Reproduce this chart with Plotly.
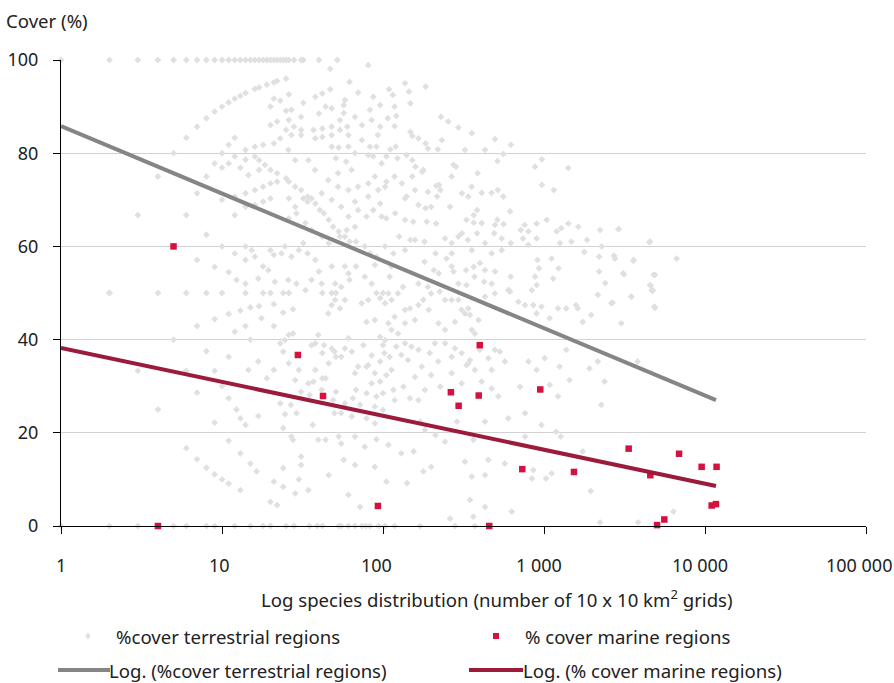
import plotly.graph_objects as go

# ---------------- DATA ----------------
# Terrestrial regions: species distribution (number of 10x10 km grids) vs % cover
terr_x_top = [1, 2, 3, 4, 5, 6, 7, 8, 9, 10, 11, 12, 13, 14, 15, 16, 17, 18, 19, 20, 21, 22, 23, 24, 25, 26, 28, 31, 32, 40, 52, 47, 81]
terr_y_top = [100, 100, 100, 100, 100, 100, 100, 100, 100, 100, 100, 100, 100, 100, 100, 100, 100, 100, 100, 100, 100, 100, 100, 100, 100, 100, 100, 100, 100, 100, 100, 98.1, 98.9]

terr_x_a = [6, 7, 8, 9, 10, 11, 12, 13, 14, 16, 17, 19, 21, 22, 25, 5, 4, 3, 2,
            6, 7, 8, 9, 10, 11, 12, 5,
            62, 70, 87, 38, 42, 47, 58, 32, 26, 21, 23, 20, 25, 27, 31, 40, 44, 48, 57, 57, 54, 60, 67, 83, 96, 74, 85, 96, 93, 83, 91, 87, 81,
            61, 48, 53, 51, 59, 67, 74, 61, 54, 48, 48, 42, 37, 42, 38, 31, 31, 28, 26, 22, 20, 25, 27, 23, 21, 18, 16, 14, 12, 11, 10]
terr_y_a = [83.3, 85.7, 87.5, 88.9, 90, 90.9, 91.7, 92.3, 92.9, 93.8, 94.1, 94.7, 95.2, 95.5, 96, 80, 75, 66.7, 50,
            66.7, 71.4, 75, 77.8, 80, 81.8, 83.3, 60,
            95.3, 93, 92.1, 92.1, 92.8, 93.7, 91.4, 90.8, 92.6, 91.7, 91.3, 90, 89.1, 89.3, 87.8, 88.5, 90, 89.6, 90.3, 88.6, 87.1, 85.7, 87.8, 89.3, 90.3, 86, 87.1, 85.7, 83.9, 81.4, 81.4, 79.3, 79.6,
            81.4, 81.4, 81.2, 78.9, 78.2, 80, 82.8, 83.9, 85, 85.7, 83.9, 85.3, 85, 83.5, 83.2, 85, 83.9, 85.7, 87.1, 86.8, 86, 85, 83.9, 83.2, 82.1, 81.8, 81.4, 80.7, 79.3, 77.8, 76.9]

terr_x_b = [16, 17, 18.5, 20, 22, 25, 26, 28.5, 31, 34, 36, 38, 40.5, 43, 46, 49, 53, 58, 62, 68, 77, 83, 91,
            13, 14, 14.6, 17, 12, 14, 16, 18, 20, 22, 10, 12, 14, 16, 18, 20, 26, 28.5, 32, 34, 26, 29, 33, 36, 42, 46, 54, 59.5, 67, 79, 87, 96, 70, 61,
            8, 10, 14, 15.3, 12, 14, 16, 18, 20, 21, 24.6, 23.4, 27, 30, 32, 34, 38, 40, 48, 58, 61, 68, 77, 89,
            7, 9, 11, 12.3, 14, 16.8, 19.4, 21.3, 25.8, 29, 33, 36, 41.6, 50.5, 55, 62, 85,
            2, 4, 6, 8, 10, 14, 18, 20, 24, 26, 42, 48, 51, 91, 100]
terr_y_b = [79.3, 78.5, 77.5, 76.4, 75.7, 74.6, 73.9, 72.8, 72.1, 70.7, 70.3, 69.2, 67.8, 67.1, 65.7, 64.2, 63.2, 62.1, 61, 61, 60, 58.5, 57.8,
            76.9, 78.6, 75.3, 76.4, 70.7, 71.4, 72.1, 72.8, 73.5, 73.9, 70, 66.7, 68.5, 68.9, 69.6, 70.3, 70.3, 68.5, 70.3, 69.6, 66, 67.1, 65, 63.5, 62.1, 60.7, 62.1, 63.5, 64.2, 66.4, 67.8, 69.2, 67.8, 66.4,
            62.5, 60, 60, 59.2, 58.5, 57.1, 57.8, 55.7, 59.2, 58.2, 60, 58.5, 57.8, 59.2, 60.7, 58.5, 57.1, 54.6, 55.7, 55.7, 54.2, 55.7, 53.5, 56,
            57.1, 55.6, 54.5, 52.8, 52, 53.1, 54.9, 52.4, 52.8, 52, 50.6, 52.8, 52, 52, 51.3, 52.8, 52,
            50, 50, 50, 50, 50, 50, 50, 50, 50, 50, 50, 50, 50, 50, 50]

terr_x_c = [137, 109, 115, 145, 184, 148, 118, 107, 121, 118, 229, 254, 294, 148, 152, 166, 184, 190, 219, 111, 120, 105, 123, 140, 152, 159, 175, 152, 178,
            190, 223, 227, 217, 140, 137, 261, 166, 184, 274, 284, 387, 496, 559, 623, 514, 879, 970, 1416, 970, 1150, 355, 410, 473, 516, 559, 339, 103, 105, 214,
            384, 366, 615, 330, 366, 513, 496, 561, 758, 717, 800, 900, 1040, 1200, 1280, 1416, 1633, 2230, 2896, 105, 119, 137, 154, 187, 214,
            126, 148, 181, 243, 267, 294, 309, 337, 384, 430, 490, 546, 621, 740, 800, 900, 1256, 1480, 1780, 1850, 2200, 2281, 2760, 3600, 4560, 6670,
            3100, 4800, 2200, 2400, 4560, 4663, 910, 930, 879, 900, 1116, 1230, 1140, 621, 605, 840,
            103, 116, 137, 158, 181, 207, 222, 212, 248, 267, 274, 328, 366, 400, 370, 430, 496, 425, 473, 599, 294, 330, 113, 110, 133, 166, 190,
            2920, 4510, 2720, 3590, 3140, 4890, 4600, 4710, 3500, 2670, 4890]
terr_y_c = [95, 93.7, 92.5, 93.2, 94.3, 90.7, 90, 87.5, 88, 85.8, 87.8, 86.8, 85.5, 84.6, 83.7, 83.2, 82.1, 81, 80.8, 80.8, 81.4, 79.3, 78.9, 79.6, 78.5, 77.1, 76, 75, 76.4,
            71.7, 73.2, 72.1, 70.7, 70.7, 70.3, 68.5, 68.9, 68.2, 77.5, 77.1, 75.7, 83, 79.8, 81.8, 78.3, 77.1, 78.7, 76.8, 73.2, 72.1, 72.8, 71.5, 71.5, 72.1, 70.7, 70.7, 72.8, 73.9, 73,
            67.8, 66.7, 67.5, 65.7, 65.1, 65.7, 64.6, 64.8, 64.6, 63.5, 63.2, 64.9, 65.7, 63.2, 63.9, 64.9, 64.2, 63.5, 63.7, 66, 67.1, 65.7, 65.3, 65.3, 64.9,
            62.1, 61.4, 61, 61.7, 60.7, 62.1, 62.8, 61.4, 62.8, 60.7, 62.8, 61.7, 60.7, 61.7, 60.3, 61.7, 60.7, 61, 58.8, 61.4, 57.8, 60, 57.4, 57.1, 61, 57.4,
            54.2, 53.9, 54.6, 52.1, 51.7, 50.6, 57.1, 55.3, 53.5, 51.7, 57.4, 55.3, 53.1, 53.5, 50.6, 50.6,
            60, 58.5, 59.2, 61.4, 56.7, 54.9, 54.2, 58.5, 57.4, 55.7, 54.6, 54.9, 55.6, 56.4, 53.5, 54.9, 54.6, 52.4, 52, 50.6, 52, 51.7, 55.7, 53.5, 51.3, 52, 51.3,
            63.7, 60.9, 58, 56.9, 54, 53.9, 51.6, 50.4, 49.2, 47.9, 46.8]

terr_x_d = [11, 13, 15, 17, 21, 24, 27.6, 7, 9, 12, 14, 17.6, 21, 27.6, 26, 24.6, 23, 15, 5, 8, 11, 16.8, 14.6, 19, 21, 24, 26, 30, 3, 6, 9,
            7, 10, 11, 12.3, 14, 13, 16.8, 23, 26.8, 24.6, 29, 24, 27.6, 27, 36.6, 9, 4, 11, 13, 15, 16.4, 6, 7, 8, 9, 10, 11, 13,
            24, 30, 31, 21, 24, 28.5, 20, 22, 46, 44, 53, 57, 67, 61, 72, 89, 91,
            38, 42, 43, 48, 51, 50, 55, 58, 61, 64, 70, 75.5, 79, 85, 89, 96, 100, 96, 102, 91, 85, 79, 68, 64, 55, 50, 51, 46, 42, 38, 37, 31, 35, 44, 31, 34.4, 39.6]
terr_y_d = [45.5, 46.2, 46.9, 47.2, 47.6, 45.8, 46.5, 42.9, 44.4, 41.7, 42.9, 44.6, 42.9, 41.3, 41, 39.9, 39.2, 40, 40, 37.5, 36.3, 35.3, 33.5, 31.7, 33.5, 37.4, 34.9, 33.5, 33.3, 33.3, 33.3,
            28.6, 30, 27.4, 25, 21.7, 23.1, 23.6, 26.3, 26, 24, 24.2, 21, 18.5, 19.2, 21.7, 22.2, 25, 18.3, 15.6, 13.4, 11.7, 16.7, 14.3, 12.5, 11.1, 10, 9.1, 7.7,
            12.4, 10, 13.1, 9.5, 8.4, 7, 5.2, 4.5, 10.9, 18.5, 19.2, 14.2, 13.1, 6.7, 4.1, 12.7, 18.6,
            39.2, 37.1, 38.8, 38.1, 36.3, 37.4, 36.3, 38.1, 40.3, 37.4, 34.2, 38.8, 34.2, 36.6, 32.8, 35.3, 38.8, 40.6, 37.1, 27.8, 30.6, 28.5, 29.2, 23.5, 24.2, 24.2, 28.8, 34.9, 31.7, 33.5, 31, 28.8, 28.1, 31.7, 14.9, 7.7, 18.5]

terr_x_e = [103, 113, 108, 124, 147, 137, 166, 178, 199, 225, 243, 267, 294, 323, 339, 347, 430, 495, 615, 693, 763, 858, 899, 965, 1085, 1222, 1375, 1581, 1620, 1740, 1960, 2160, 2620, 3480, 4740, 4850, 3020,
            108, 113, 124, 103, 137, 150, 166, 130, 113, 105, 118, 147, 166, 182, 210, 220, 267, 280, 308, 330, 347, 372, 410, 451, 473, 495, 532, 571, 520, 473, 600, 710, 763, 800, 899, 1010, 1085, 1222, 1250, 1375, 1440, 1915, 2160, 2270, 2380, 3810,
            227, 199, 170, 182, 212, 243, 323, 364, 430, 430, 430, 571, 356, 199, 178, 108, 130, 155, 141, 105, 347, 364, 261, 630, 858, 1030, 1115, 840, 1740, 1950, 2230, 3840, 6360, 965, 1190, 1270, 763, 451, 339, 288]
terr_y_e = [47.8, 48.5, 49.9, 49.9, 46.7, 46.4, 47.4, 48.5, 49.9, 50.3, 48.5, 48.5, 48.5, 45.6, 46.7, 45.3, 49.2, 49.9, 50.3, 48.1, 47.4, 47.4, 45.6, 47.1, 44.6, 46.7, 46.7, 47.4, 46.7, 43.8, 45.3, 49.6, 47.8, 49.2, 50.6, 47.1, 43.5,
            43.5, 42.1, 41.3, 39.9, 39.2, 38.5, 37.8, 36.7, 33.5, 32.4, 27, 27.4, 27, 29.2, 39.2, 35.3, 36.3, 38.1, 37.1, 34.5, 35.6, 33.5, 31, 36, 33.5, 37.8, 37.4, 35.3, 27.8, 29.5, 23.1, 29.9, 24.2, 35.3, 33.5, 36, 30.3, 27.8, 34.2, 37.8, 31.3, 33.8, 35.3, 26, 31, 35.3,
            29.9, 32.4, 22.4, 20.6, 19.5, 18.1, 13.8, 18.5, 22.4, 4.1, 10.9, 13.4, 10.6, 12.7, 11.7, 17.4, 15.6, 16, 9.2, 9.5, 5.6, 2, 1.6, 3.1, 12, 10.2, 11.3, 10.2, 16, 7.5, 0.8, 0.8, 3.1, 21.7, 20.2, 19.2, 19.2, 14.2, 34.9, 22.4]

terr_x_f = [45.7, 54, 50.4, 48, 58, 73.7, 79, 89, 81, 96, 39.6, 36, 28.5, 34.4, 41.6, 49, 58, 65, 72, 79, 89, 100, 55, 67, 77, 89, 100, 96, 81, 67,
            118, 137, 158, 192, 221, 243, 280, 308, 356, 392, 121, 143, 174, 195, 243, 267, 308, 372, 399, 116, 134, 158, 110,
            118, 131, 158, 199, 267, 323, 356, 430, 232, 309, 410, 546, 267, 356, 473,
            25.8, 28.5, 34.4, 37.8, 45.7, 52.6, 61, 70, 81, 89, 98, 52.6, 63.8, 41.6, 48, 55, 67, 81, 93.5, 98]
terr_y_f = [45.6, 46.7, 48.5, 47.4, 48.5, 47.8, 43.8, 44.2, 48.5, 48.9, 41, 38.8, 31.3, 30.6, 29.2, 27, 26.3, 27.4, 26, 23.1, 25.6, 24.9, 17.7, 19.2, 17, 22, 28.5, 31, 34.5, 32.8,
            44.9, 43.5, 44.2, 46.4, 43.5, 42.1, 43.8, 46.4, 42.1, 44.2, 38.5, 35.6, 34.2, 37.1, 39.2, 32.8, 30.6, 41.3, 37.8, 29.2, 29.9, 32, 36.3,
            75, 73.5, 72.1, 68.5, 75, 80.7, 84.3, 80.7, 82.8, 71.4, 65, 59.2, 58.5, 59.2, 58.5,
            80.7, 78.5, 78.5, 76.4, 74.2, 72.8, 72.1, 72.8, 73.5, 75, 77.8, 75.7, 76.4, 71.4, 70, 68.5, 69.6, 70.7, 72.1, 66.4]

terr_x_zero = [1, 2, 3, 4, 5, 6, 8, 9, 12, 15, 18, 20, 25, 28, 35, 39, 42, 53, 55, 61, 67, 74, 78, 83, 94, 103, 118, 170, 280, 372]
terr_y_zero = [0] * len(terr_x_zero)

# Marine regions
marine_x = [5, 4, 29.6, 42.4, 93, 399, 264, 295, 393, 948, 457, 733, 1535, 3357, 4575, 6900, 9530, 11800, 5040, 5590, 11000, 11700]
marine_y = [60, 0, 36.7, 27.9, 4.3, 38.8, 28.7, 25.8, 28.0, 29.3, 0, 12.2, 11.6, 16.6, 10.9, 15.5, 12.7, 12.7, 0.2, 1.4, 4.4, 4.7]

# Logarithmic trend lines (end points)
trend_x = [1, 11700]
terr_trend_y = [85.8, 27.0]
marine_trend_y = [38.2, 8.6]

x_tickvals = [1, 10, 100, 1000, 10000, 100000]
x_ticktext = ["1", "10", "100", "1 000", "10 000", "100 000"]
y_tickvals = [0, 20, 40, 60, 80, 100]

names = ["%cover terrestrial regions", "% cover marine regions",
         "Log. (%cover terrestrial regions)", "Log. (% cover marine regions)"]

# ---------------- FIGURE ----------------
terr_x = terr_x_top + terr_x_a + terr_x_b + terr_x_c + terr_x_d + terr_x_e + terr_x_f + terr_x_zero
terr_y = terr_y_top + terr_y_a + terr_y_b + terr_y_c + terr_y_d + terr_y_e + terr_y_f + terr_y_zero

GRAY_PT = "#dfe0e2"
RED_PT = "#d4113f"
GRAY_LN = "#858587"
RED_LN = "#9c1b3b"
FONT = "Noto Sans"
TXT = "#222222"
FS = 18
FS_T = 18.6

fig = go.Figure()
fig.add_trace(go.Scatter(x=terr_x, y=terr_y, mode="markers", name=names[0],
                         marker=dict(symbol="diamond", size=5.2, color=GRAY_PT),
                         cliponaxis=False))
fig.add_trace(go.Scatter(x=marine_x, y=marine_y, mode="markers", name=names[1],
                         marker=dict(symbol="square", size=6.5, color=RED_PT),
                         cliponaxis=False))
fig.add_trace(go.Scatter(x=trend_x, y=terr_trend_y, mode="lines", name=names[2],
                         line=dict(color=GRAY_LN, width=4)))
fig.add_trace(go.Scatter(x=trend_x, y=marine_trend_y, mode="lines", name=names[3],
                         line=dict(color=RED_LN, width=4)))

L, R, T, B = 61, 28, 60, 157
W, H = 894, 683
PW, PH = W - L - R, H - T - B


def px(xp):
    return (xp - L) / PW


def py(yp):
    return (H - B - yp) / PH


fig.update_layout(
    width=W, height=H,
    margin=dict(l=L, r=R, t=T, b=B, autoexpand=False),
    plot_bgcolor="white", paper_bgcolor="white",
    showlegend=False,
    font=dict(family=FONT, size=FS, color=TXT),
)
# tick marks from the axis; labels placed as annotations (Excel offsets them slightly left)
fig.update_xaxes(type="log", range=[0, 5], tickvals=x_tickvals,
                 showticklabels=False, automargin=False,
                 showgrid=False, zeroline=False, showline=True, linecolor="black", linewidth=1,
                 ticks="outside", ticklen=7, tickcolor="black", tickwidth=1)
fig.update_yaxes(range=[0, 100], tickvals=y_tickvals, automargin=False,
                 showgrid=True, gridcolor="#d2d2d2", gridwidth=1, zeroline=False,
                 showline=True, linecolor="black", linewidth=1,
                 ticks="outside", ticklen=7, tickcolor="black", tickwidth=1,
                 ticklabelstandoff=11, tickfont=dict(size=FS, color=TXT))

ann = []
label_px = [61, 219, 376, 539, 700, 858.5]
for t, xx in zip(x_ticktext, label_px):
    ann.append(dict(text=t, x=px(xx), y=py(565), xref="paper", yref="paper",
                    showarrow=False, xanchor="center", yanchor="middle", font=dict(size=FS, color=TXT)))
ann.append(dict(text="Cover (%)", x=px(4), y=py(21), xref="paper", yref="paper",
                showarrow=False, xanchor="left", yanchor="middle", font=dict(size=FS_T, color=TXT)))
ann.append(dict(text="Log species distribution (number of 10 x 10 km<sup>2</sup> grids)",
                x=px(497), y=py(598), xref="paper", yref="paper",
                showarrow=False, xanchor="center", yanchor="middle", font=dict(size=FS_T, color=TXT)))
leg_text = [(names[0], 114, 636), (names[1], 523, 636), (names[2], 107, 670), (names[3], 521, 670)]
for t, xx, yy in leg_text:
    ann.append(dict(text=t, x=px(xx), y=py(yy), xref="paper", yref="paper",
                    showarrow=False, xanchor="left", yanchor="middle", font=dict(size=FS_T, color=TXT)))
fig.update_layout(annotations=ann)

shapes = [
    dict(type="path", xref="paper", yref="paper", xsizemode="pixel", ysizemode="pixel",
         xanchor=px(88), yanchor=py(636), path="M0,3.5 L2.6,0 L0,-3.5 L-2.6,0 Z",
         fillcolor=GRAY_PT, line=dict(width=0)),
    dict(type="path", xref="paper", yref="paper", xsizemode="pixel", ysizemode="pixel",
         xanchor=px(496), yanchor=py(636), path="M-3,-3 L3,-3 L3,3 L-3,3 Z",
         fillcolor=RED_PT, line=dict(width=0)),
    dict(type="line", xref="paper", yref="paper", x0=px(58), x1=px(110), y0=py(670), y1=py(670),
         line=dict(color=GRAY_LN, width=4)),
    dict(type="line", xref="paper", yref="paper", x0=px(469), x1=px(523), y0=py(670), y1=py(670),
         line=dict(color=RED_LN, width=4)),
]
fig.update_layout(shapes=shapes)

fig.write_html("out.html", config={"displayModeBar": False},
               post_script="document.body.style.margin='0';")
